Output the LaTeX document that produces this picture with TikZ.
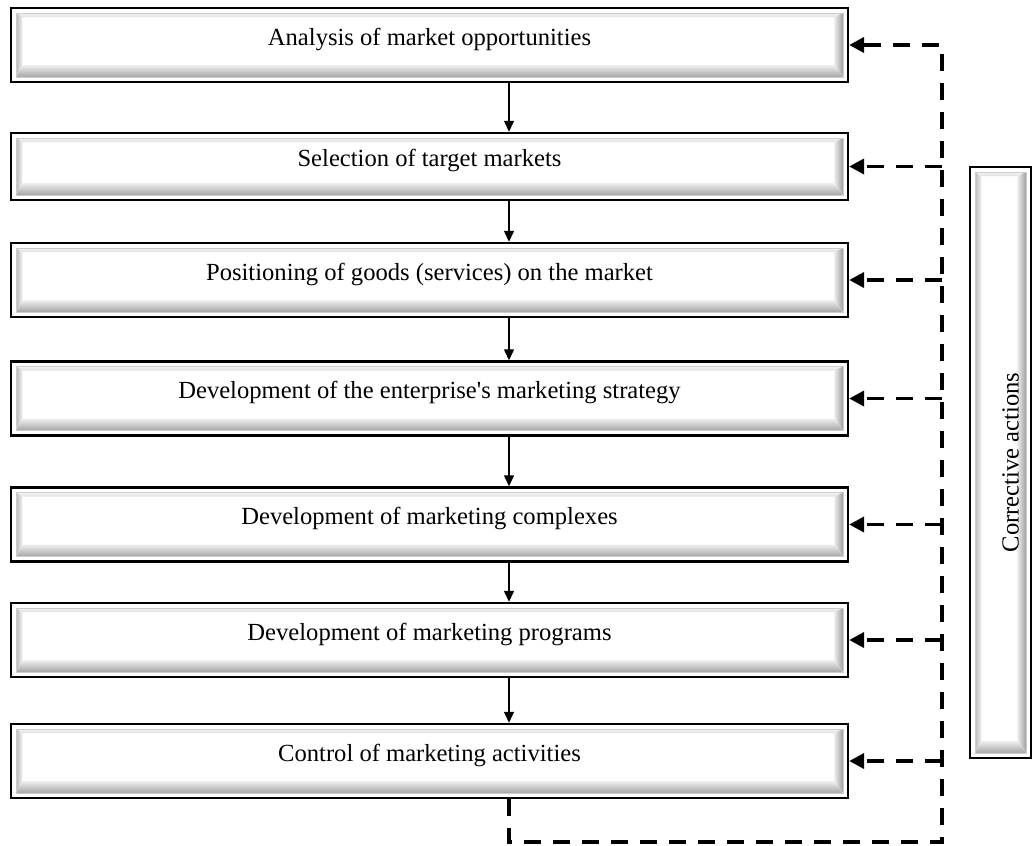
\documentclass[tikz,border=0pt]{standalone}
\usepackage{fontspec}
\setmainfont{Liberation Serif}
\usepackage{tikz}
\usetikzlibrary{arrows.meta, calc}

% bevelled face painted inside a box
\newcommand{\bevelpaint}{%
  \path (path picture bounding box.south west) ++(0.1cm,0.1cm) coordinate (osw);
  \path (path picture bounding box.north east) ++(-0.1cm,-0.1cm) coordinate (one);
  \path (osw) ++(0.13cm,0.24cm) coordinate (fsw);
  \path (one) ++(-0.17cm,-0.08cm) coordinate (fne);
  \fill[top color=gray!8, bottom color=gray!25]
    (osw |- one) -- (one) -- (fne) -- (fsw |- fne) -- cycle;
  \fill[left color=gray!55, right color=gray!8]
    (osw) -- (osw |- one) -- (fsw |- fne) -- (fsw) -- cycle;
  \fill[left color=gray!15, right color=gray!75]
    (one) -- (one |- osw) -- (fne |- fsw) -- (fne) -- cycle;
  \fill[top color=gray!12, bottom color=gray!70]
    (osw) -- (one |- osw) -- (fne |- fsw) -- (fsw) -- cycle;
  \draw[gray!40, line width=0.4pt] (osw) rectangle (one);
}

\tikzset{
  bevel/.style = {
    rectangle, draw=black, line width=1.4pt, fill=white,
    inner sep=0pt, font=\fontsize{14}{16}\selectfont,
    path picture={\bevelpaint}
  },
  stage/.style = {
    bevel, minimum width=16.74cm, minimum height=1.48cm,
    text height=0.35cm, text depth=0.35cm
  },
  flow/.style  = {-{Triangle[length=0.22cm, width=0.2cm]}, line width=0.8pt},
  fback/.style = {-{Triangle[length=0.3cm, width=0.3cm]}, line width=2.1pt,
                  dash pattern=on 0.34cm off 0.24cm}
}

\begin{document}
\begin{tikzpicture}[x=0.02cm, y=-0.02cm]
\useasboundingbox (0,0) rectangle (1033,845);

%% ── Stages ───────────────────────────────────────────
\node[stage] (ana) at (429.5,45) {Analysis of market opportunities};
\node[stage, minimum height=1.34cm] (sel) at (429.5,166.5)
  {Selection of target markets};
\node[stage] (pos) at (429.5,280)
  {Positioning of goods (services) on the market};
\node[stage] (str) at (429.5,398.5)
  {Development of the enterprise\textquotesingle s marketing strategy};
\node[stage] (cpx) at (429.5,524.5) {Development of marketing complexes};
\node[stage] (prg) at (429.5,640) {Development of marketing programs};
\node[stage] (ctl) at (429.5,761) {Control of marketing activities};

%% ── Side box ─────────────────────────────────────────
\node[bevel, minimum width=1.22cm, minimum height=11.82cm]
  (cor) at (1000.5,462.5) {\hspace*{0.4cm}\rotatebox{90}{Corrective actions}};

%% ── Guide points ─────────────────────────────────────
\coordinate (axis) at (509,0);
\coordinate (rail) at (942,842);

%% ── Arrows ───────────────────────────────────────────
\foreach \a/\b in {ana/sel, sel/pos, pos/str, str/cpx, cpx/prg, prg/ctl}
  \draw[flow] (\a.south -| axis) -- (\b.north -| axis);

\draw[fback] (ctl.south -| axis) -- (axis |- rail) -- (rail)
  -- (rail |- ana.east) -- (ana.east);
\foreach \s in {sel, pos, str, cpx, prg, ctl}
  \draw[fback] (rail |- \s.east) -- (\s.east);

\end{tikzpicture}
\end{document}
